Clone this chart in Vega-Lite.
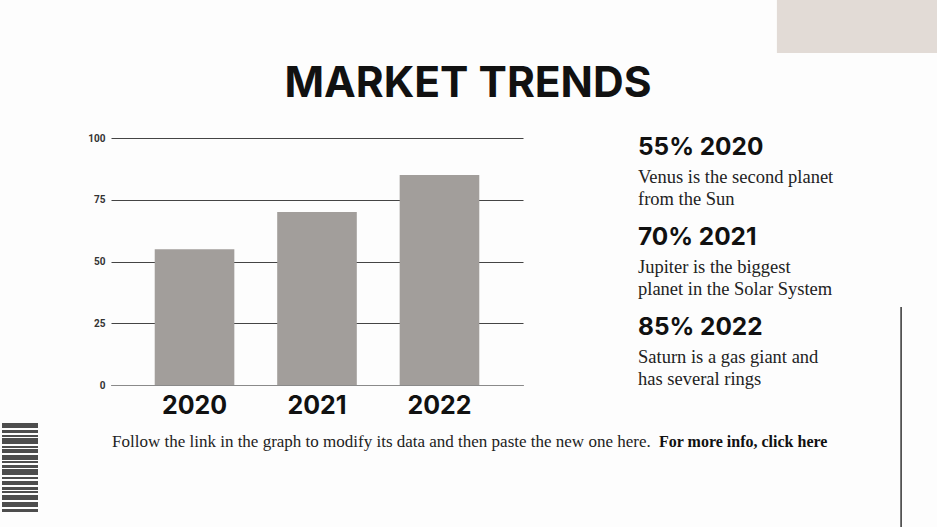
{
  "$schema": "https://vega.github.io/schema/vega-lite/v6.json",
  "background": "#fdfdfd",
  "padding": {"left": 2, "top": 0, "right": 0, "bottom": 0},
  "bounds": "flush",
  "spacing": 115,
  "config": {"view": {"stroke": null}, "font": "Inter"},
  "datasets": {
    "trends": [
      {"year": "2020", "value": 55, "label": "55% 2020", "desc": "Venus is the second planet\nfrom the Sun"},
      {"year": "2021", "value": 70, "label": "70% 2021", "desc": "Jupiter is the biggest\nplanet in the Solar System"},
      {"year": "2022", "value": 85, "label": "85% 2022", "desc": "Saturn is a gas giant and\nhas several rings"}
    ]
  },
  "hconcat": [
    {
      "width": 412,
      "height": 247,
      "data": {"name": "trends"},
      "title": {"text": "MARKET TRENDS", "font": "Inter", "fontSize": 42.5, "fontWeight": 700, "color": "#111111", "anchor": "middle", "frame": "group", "dx": 151, "offset": -6, "baseline": "alphabetic"},
      "mark": {"type": "bar", "color": "#a29e9b"},
      "encoding": {
        "x": {"field": "year", "type": "ordinal", "scale": {"paddingInner": 0.35, "paddingOuter": 0.357},
              "axis": {"title": null, "labelAngle": 0, "labelFont": "Inter", "labelFontSize": 25, "labelFontWeight": 700, "labelColor": "#111111", "ticks": false, "labelPadding": 8, "domainColor": "#8a8a8a", "domainWidth": 1.2}},
        "y": {"field": "value", "type": "quantitative", "scale": {"domain": [0, 100]},
              "axis": {"title": null, "values": [0, 25, 50, 75, 100], "domain": false, "ticks": false, "labelFont": "Roboto", "labelFontSize": 10, "labelFontWeight": 700, "labelColor": "#333333", "labelPadding": 6, "gridColor": "#444444", "gridWidth": 1.1, "gridOpacity": 1}}
      }
    },
    {
      "width": 300,
      "height": 360,
      "resolve": {"scale": {"y": "independent"}},
      "layer": [
        {
          "data": {"values": [{}]},
          "mark": {"type": "rect", "color": "#e2dbd6"},
          "encoding": {
            "x": {"datum": 0.463, "type": "quantitative", "scale": {"domain": [0, 1]}, "axis": null},
            "x2": {"datum": 1},
            "y": {"datum": -0.3833, "type": "quantitative", "scale": {"domain": [0, 1], "reverse": true}, "axis": null},
            "y2": {"datum": -0.2361}
          }
        },
        {
          "data": {"values": [{}]},
          "mark": {"type": "rule", "color": "#333333", "strokeWidth": 1.5},
          "encoding": {
            "x": {"datum": 0.877, "type": "quantitative"},
            "y": {"datum": 0.4694, "type": "quantitative", "scale": {"domain": [0, 1], "reverse": true}, "axis": null},
            "y2": {"datum": 1.0806}
          }
        },
        {
          "data": {"values": [{}]},
          "mark": {"type": "rule", "color": "#2e2e2e", "opacity": 0.85, "strokeWidth": 36, "strokeCap": "butt", "strokeDash": [5, 2, 3, 2, 2, 1, 6, 2, 2, 1, 4, 2, 5, 1, 2, 2, 3, 1, 6, 2, 2, 2, 4, 2, 3, 1, 2, 2, 5, 2]},
          "encoding": {
            "x": {"datum": -2.06, "type": "quantitative"},
            "y": {"datum": 0.7917, "type": "quantitative", "scale": {"domain": [0, 1], "reverse": true}, "axis": null},
            "y2": {"datum": 1.0389}
          }
        },
        {
          "data": {"name": "trends"},
          "mark": {"type": "text", "align": "left", "baseline": "alphabetic", "font": "Inter", "fontSize": 24.4, "fontWeight": 700, "color": "#111111", "dx": 0, "dy": 17},
          "encoding": {
            "x": {"datum": 0, "type": "quantitative"},
            "y": {"field": "year", "type": "ordinal", "scale": {"type": "point", "padding": 1, "align": 0}, "axis": null},
            "text": {"field": "label"}
          }
        },
        {
          "data": {"name": "trends"},
          "mark": {"type": "text", "align": "left", "baseline": "alphabetic", "font": "Liberation Serif", "fontSize": 18.5, "color": "#222222", "lineBreak": "\n", "lineHeight": 22, "dx": 0, "dy": 45},
          "encoding": {
            "x": {"datum": 0, "type": "quantitative"},
            "y": {"field": "year", "type": "ordinal", "scale": {"type": "point", "padding": 1, "align": 0}, "axis": null},
            "text": {"field": "desc"}
          }
        },
        {
          "data": {"values": [{"text": "Follow the link in the graph to modify its data and then paste the new one here."}]},
          "mark": {"type": "text", "align": "left", "baseline": "middle", "font": "Liberation Serif", "fontSize": 17, "color": "#222222"},
          "encoding": {
            "x": {"datum": -1.7533, "type": "quantitative"},
            "y": {"datum": 0.844, "type": "quantitative", "scale": {"domain": [0, 1], "reverse": true}, "axis": null},
            "text": {"field": "text"}
          }
        },
        {
          "data": {"values": [{"text": "For more info, click here"}]},
          "mark": {"type": "text", "align": "left", "baseline": "middle", "font": "Liberation Serif", "fontSize": 16, "fontWeight": "bold", "color": "#111111"},
          "encoding": {
            "x": {"datum": 0.07, "type": "quantitative"},
            "y": {"datum": 0.844, "type": "quantitative", "scale": {"domain": [0, 1], "reverse": true}, "axis": null},
            "text": {"field": "text"}
          }
        }
      ]
    }
  ]
}
